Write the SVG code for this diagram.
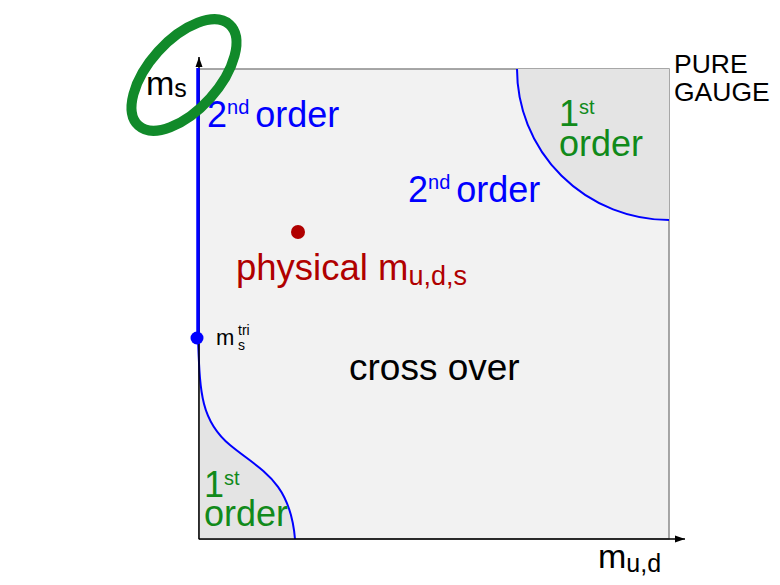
<svg xmlns="http://www.w3.org/2000/svg" width="780" height="585" viewBox="0 0 780 585">
<defs>
<marker id="arr" viewBox="0 0 10 10" refX="10" refY="5" markerWidth="10" markerHeight="10" markerUnits="userSpaceOnUse" orient="auto">
<path d="M0,1.5 L10,5 L0,8.5 Z" fill="#000"/>
</marker>
</defs>
<style>
text{font-family:"Liberation Sans",Arial,sans-serif}
.big{font-size:36px}
.sup{font-size:20px}
.blue{fill:#0000ff}
.green{fill:#118a1a}
.red{fill:#b00000}
.blk{fill:#000}
.curve{fill:none;stroke:#0000ff;stroke-width:2}
</style>
<rect x="199" y="69" width="470" height="470" fill="#f2f2f2" stroke="#8a8a8a" stroke-width="1.5"/>
<g id="region-pure-gauge">
<path d="M517,69 A152,151 0 0 0 669,220 L669,69 Z" fill="#e4e4e4"/>
<path class="curve" d="M517,69 A152,151 0 0 0 669,220"/>
</g>
<g id="region-chiral">
<path d="M199,339 C200,390 200,420 230,445 C260,470 290,480 295,539 L199,539 Z" fill="#e4e4e4"/>
<path class="curve" d="M198,339 C200,390 200,420 230,445 C260,470 290,480 295,539"/>
</g>
<g id="axes">
<line x1="199" y1="539" x2="685" y2="539" stroke="#000" stroke-width="1.5" marker-end="url(#arr)"/>
<line x1="199" y1="539" x2="199" y2="57" stroke="#000" stroke-width="1.5" marker-end="url(#arr)"/>
<line x1="198" y1="68" x2="198" y2="339" stroke="#0000ff" stroke-width="3.5"/>
</g>
<g id="tricritical">
<circle cx="197" cy="338" r="6.5" fill="#0000ff"/>
<text x="216" y="345" class="blk" style="font-size:22px">m</text>
<text x="238" y="335" class="blk" style="font-size:14px">tri</text>
<text x="238" y="350" class="blk" style="font-size:14px">s</text>
</g>
<g id="physical">
<circle cx="298" cy="232" r="7" fill="#b00000"/>
<text x="236" y="280" class="red" style="font-size:36.5px">physical m<tspan style="font-size:27px" dy="5">u,d,s</tspan></text>
</g>
<g id="labels">
<text x="146" y="95" class="blk" style="font-size:34px">m<tspan style="font-size:25px" dy="2">s</tspan></text>
<text x="207" y="127" class="big blue">2<tspan class="sup" dy="-13">nd</tspan><tspan dx="6" dy="13">order</tspan></text>
<text x="408" y="202" class="big blue">2<tspan class="sup" dy="-13">nd</tspan><tspan dx="6" dy="13">order</tspan></text>
<text x="674" y="73" class="blk" style="font-size:26.5px">PURE</text>
<text x="674" y="101" class="blk" style="font-size:26.5px">GAUGE</text>
<text x="559" y="126" class="big green">1<tspan class="sup" dy="-12">st</tspan></text>
<text x="559" y="156" class="big green">order</text>
<text x="204" y="497" class="big green">1<tspan class="sup" dy="-12">st</tspan></text>
<text x="204" y="526" class="big green">order</text>
<text x="349" y="380" class="blk" style="font-size:37px">cross over</text>
<text x="598" y="568" class="blk" style="font-size:34px">m<tspan style="font-size:25px" dy="4">u,d</tspan></text>
</g>
<ellipse id="highlight" cx="184" cy="75" rx="68" ry="35" transform="rotate(-48 184 75)" fill="none" stroke="#118a2a" stroke-width="10"/>
</svg>
